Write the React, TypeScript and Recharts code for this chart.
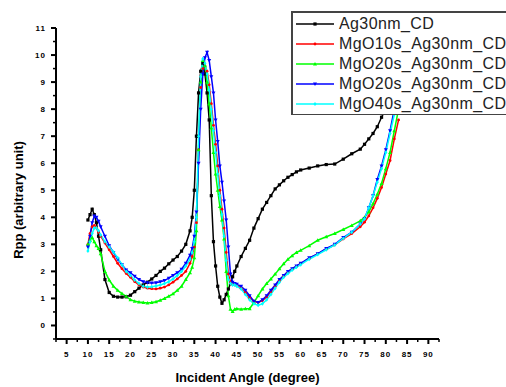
import { LineChart, Line, XAxis, YAxis, Legend } from 'recharts';

const angles = [
  10, 10.5, 11, 11.5, 12, 12.5, 13, 14, 15, 16, 17, 18, 19, 20, 21, 22, 23, 24, 25, 26, 27, 28, 29, 30, 31, 32, 33, 34,
  34.5, 35, 35.5, 36, 36.5, 37, 37.5, 38, 38.5, 39, 39.5, 40, 40.5, 41, 41.5, 42, 42.5, 43, 43.5, 44, 44.5, 45,
  46, 47, 48, 49, 50, 51, 52, 53, 54, 55, 56, 57, 58, 59, 60, 62, 64, 66, 68, 70, 72, 74, 75, 76, 77, 78, 79, 80, 81, 82, 83,
];

const ag30 = [
  3.9, 4.1, 4.3, 4.1, 3.8, 3.3, 2.8, 1.7, 1.22, 1.08, 1.05, 1.05, 1.06, 1.12, 1.25, 1.38, 1.5, 1.6, 1.72, 1.85, 2.0, 2.12, 2.28, 2.42, 2.55, 2.75, 3.0, 3.5,
  4.0, 5.0, 7.0, 8.6, 9.4, 9.7, 9.3, 8.6, 7.6, 4.8, 3.1, 2.2, 1.45, 1.05, 0.82, 0.95, 1.15, 1.35, 1.55, 1.8, 2.0, 2.2,
  2.55, 2.85, 3.15, 3.6, 3.95, 4.3, 4.55, 4.8, 5.05, 5.2, 5.35, 5.48, 5.58, 5.68, 5.75, 5.82, 5.9, 5.95, 5.97, 6.15, 6.35, 6.52, 6.7, 6.9, 7.1, 7.35, 7.7, 8.0, null, null, null,
];

const mgo10 = [
  3.0, 3.4, 3.65, 3.7, 3.6, 3.45, 3.3, 3.05, 2.8, 2.55, 2.3, 2.1, 1.92, 1.78, 1.62, 1.5, 1.42, 1.38, 1.36, 1.35, 1.38, 1.42, 1.5, 1.6, 1.72, 1.85, 2.0, 2.3,
  2.55, 2.9, 3.8, 6.5, 8.8, 9.5, 9.6, 9.4, 8.9, 8.2, 7.4, 6.7, 5.9, 5.0, 4.3, 3.6, 2.7, 1.9, 1.6, 1.52, 1.5, 1.48,
  1.38, 1.22, 1.02, 0.9, 0.85, 0.92, 1.05, 1.25, 1.45, 1.65, 1.82, 1.95, 2.08, 2.18, 2.28, 2.48, 2.65, 2.82, 2.98, 3.2, 3.4, 3.65, 3.82, 4.05, 4.35, 4.7, 5.1, 5.6, 6.1, 6.9, 7.6,
];

const mgo20a = [
  3.0, 3.15, 3.25, 3.1, 2.95, 2.85, 2.65, 2.0, 1.68, 1.45, 1.3, 1.18, 1.08, 0.95, 0.9, 0.87, 0.85, 0.83, 0.85, 0.88, 0.93, 1.0, 1.08, 1.17, 1.3, 1.45, 1.7, 1.95,
  2.15, 2.5, 3.5, 6.5, 9.0, 9.8, 9.6, 9.0, 8.2, 7.3, 6.4, 5.6, 5.0, 4.4, 3.9, 3.2, 2.0, 1.1, 0.6, 0.52, 0.6, 0.62,
  0.6, 0.62, 0.62, 0.85, 1.1, 1.35, 1.55, 1.72, 1.9, 2.1, 2.28, 2.45, 2.58, 2.7, 2.78, 2.95, 3.15, 3.28, 3.4, 3.55, 3.7, 3.87, 4.0, 4.2, 4.5, 4.85, 5.25, 5.8, 6.4, 7.2, 8.0,
];

const mgo20b = [
  2.9, 3.3, 3.8, 4.05, 4.0, 3.85, 3.65, 3.3, 2.95, 2.7, 2.45, 2.25, 2.05, 1.95, 1.82, 1.7, 1.62, 1.58, 1.57, 1.58, 1.62, 1.66, 1.75, 1.85, 1.95, 2.08, 2.3, 2.6,
  2.85, 3.3, 4.2, 6.0, 8.0, 9.3, 9.9, 10.1, 9.8, 9.2, 8.6, 7.6, 6.8, 5.9, 5.3, 4.6, 3.9, 2.9, 1.9, 1.6, 1.55, 1.52,
  1.45, 1.3, 1.1, 0.9, 0.85, 0.95, 1.1, 1.3, 1.5, 1.7, 1.85, 2.0, 2.1, 2.2, 2.3, 2.5, 2.65, 2.85, 3.0, 3.25, 3.45, 3.75, 3.95, 4.35, 4.8, 5.4, 5.9, 6.5, 7.2, 8.0, null,
];

const mgo40 = [
  2.75, 3.1, 3.4, 3.6, 3.6, 3.5, 3.35, 3.1, 2.9, 2.72, 2.5, 2.25, 2.0, 1.85, 1.68, 1.55, 1.45, 1.42, 1.43, 1.46, 1.5, 1.55, 1.62, 1.72, 1.85, 2.0, 2.2, 2.45,
  2.7, 3.1, 4.0, 7.0, 9.2, 9.85, 9.7, 9.3, 8.7, 8.0, 7.2, 6.4, 5.6, 4.8, 4.1, 3.3, 2.4, 1.7, 1.55, 1.5, 1.5, 1.45,
  1.35, 1.15, 0.95, 0.8, 0.75, 0.8, 0.95, 1.15, 1.38, 1.6, 1.78, 1.92, 2.05, 2.15, 2.25, 2.45, 2.62, 2.8, 2.98, 3.22, 3.45, 3.75, 3.95, 4.35, 4.8, 5.3, 5.8, 6.4, 7.1, 7.8, null,
];

const xTicks = [
  2.5, 5, 7.5, 10, 12.5, 15, 17.5, 20, 22.5, 25, 27.5, 30, 32.5, 35, 37.5, 40, 42.5, 45, 47.5, 50,
  52.5, 55, 57.5, 60, 62.5, 65, 67.5, 70, 72.5, 75, 77.5, 80, 82.5, 85, 87.5, 90, 92.5,
];
const yTicks = [-0.5, 0, 0.5, 1, 1.5, 2, 2.5, 3, 3.5, 4, 4.5, 5, 5.5, 6, 6.5, 7, 7.5, 8, 8.5, 9, 9.5, 10, 10.5, 11];

const data = angles.map((a, i) => ({
  angle: a,
  ag30: ag30[i],
  mgo10: mgo10[i],
  mgo20a: mgo20a[i],
  mgo20b: mgo20b[i],
  mgo40: mgo40[i],
}));

type Shape = 'square' | 'circle' | 'up' | 'down' | 'diamond';

function marker(shape: Shape, cx: number, cy: number, color: string, key?: string) {
  if (shape === 'square') return <rect key={key} x={cx - 1.6} y={cy - 1.6} width={3.2} height={3.2} fill={color} />;
  if (shape === 'circle') return <circle key={key} cx={cx} cy={cy} r={1.4} fill={color} />;
  if (shape === 'up')
    return <path key={key} d={`M${cx},${cy - 2} L${cx + 2},${cy + 1.5} L${cx - 2},${cy + 1.5} Z`} fill={color} />;
  if (shape === 'down')
    return <path key={key} d={`M${cx},${cy + 2} L${cx + 2},${cy - 1.5} L${cx - 2},${cy - 1.5} Z`} fill={color} />;
  return <path key={key} d={`M${cx},${cy - 2} L${cx + 1.6},${cy} L${cx},${cy + 2} L${cx - 1.6},${cy} Z`} fill={color} />;
}

const series = [
  { key: 'ag30', name: 'Ag30nm_CD', color: '#000000', shape: 'square' as Shape },
  { key: 'mgo10', name: 'MgO10s_Ag30nm_CD', color: '#ff0000', shape: 'circle' as Shape },
  { key: 'mgo20a', name: 'MgO20s_Ag30nm_CD', color: '#00ff00', shape: 'up' as Shape },
  { key: 'mgo20b', name: 'MgO20s_Ag30nm_CD', color: '#0000ff', shape: 'down' as Shape },
  { key: 'mgo40', name: 'MgO40s_Ag30nm_CD', color: '#00ffff', shape: 'diamond' as Shape },
];

const FONT = 'Liberation Sans, Arial, sans-serif';

function XTick({ x, y, payload }: any) {
  const major = payload.value % 5 === 0;
  return (
    <g>
      <line x1={x} x2={x} y1={y} y2={y + (major ? 5 : 3)} stroke="#000" strokeWidth={major ? 2 : 1.5} />
      {major && (
        <text x={x} y={y + 18} textAnchor="middle" fontSize={8} fontWeight="bold" letterSpacing={1}
          fontFamily={FONT} fill="#000">
          {payload.value}
        </text>
      )}
    </g>
  );
}

function YTick({ x, y, payload }: any) {
  const major = Number.isInteger(payload.value);
  return (
    <g>
      <line x1={x} x2={x - (major ? 5 : 3)} y1={y} y2={y} stroke="#000" strokeWidth={major ? 2 : 1.5} />
      {major && (
        <text x={x - 10} y={y + 3} textAnchor="end" fontSize={8} fontWeight="bold" letterSpacing={1}
          fontFamily={FONT} fill="#000">
          {payload.value}
        </text>
      )}
    </g>
  );
}

function XTitle({ viewBox }: any) {
  return (
    <text x={viewBox.x + viewBox.width / 2} y={viewBox.y + 43} textAnchor="middle" fontSize={13} fontWeight="bold"
      fontFamily={FONT} fill="#000">
      Incident Angle (degree)
    </text>
  );
}

function YTitle({ viewBox }: any) {
  const cx = viewBox.x + 10;
  const cy = viewBox.y + 172;
  return (
    <text x={cx} y={cy} transform={`rotate(-90 ${cx} ${cy})`} textAnchor="middle" dominantBaseline="central"
      fontSize={13} fontWeight="bold" fontFamily={FONT} fill="#000">
      Rpp (arbitrary unit)
    </text>
  );
}

function LegendBox() {
  return (
    <div style={{ width: 215, height: 104, overflow: 'hidden' }}>
      <div style={{ width: 240, height: 100, border: '2px solid #444', background: '#fff', paddingTop: 1,
        fontFamily: FONT, fontSize: 16, color: '#222' }}>
        {series.map((s) => (
          <div key={s.key} style={{ height: 20, display: 'flex', alignItems: 'center', whiteSpace: 'nowrap' }}>
            <svg width={46} height={12} style={{ flex: 'none' }}>
              <line x1={3} x2={41} y1={6} y2={6} stroke={s.color} strokeWidth={1.5} />
              {marker(s.shape, 22, 6, s.color)}
            </svg>
            <span style={{ letterSpacing: 0.4 }}>{s.name}</span>
          </div>
        ))}
      </div>
    </div>
  );
}

export default function App() {
  return (
    <div style={{ position: 'absolute', left: 0, top: 0, width: 506, height: 387, overflow: 'hidden', background: '#fff' }}>
      <LineChart width={506} height={387} data={data} margin={{ top: 28, right: 67, left: 8, bottom: 0 }}>
        <XAxis
          dataKey="angle"
          type="number"
          domain={[2.5, 92.5]}
          ticks={xTicks}
          interval={0}
          height={48}
          tickSize={0}
          tickMargin={0}
          tick={<XTick />}
          axisLine={{ stroke: '#000', strokeWidth: 2 }}
          label={{ content: <XTitle /> }}
        />
        <YAxis
          type="number"
          domain={[-0.5, 11]}
          ticks={yTicks}
          interval={0}
          width={48}
          tickSize={0}
          tickMargin={0}
          tick={<YTick />}
          axisLine={{ stroke: '#000', strokeWidth: 2 }}
          label={{ content: <YTitle /> }}
        />
        {series.map((s) => (
          <Line
            key={s.key}
            dataKey={s.key}
            name={s.name}
            type="linear"
            stroke={s.color}
            strokeWidth={1.5}
            isAnimationActive={false}
            dot={(p: any) =>
              p.cx == null || p.cy == null || p.value == null
                ? <g key={`${s.key}-${p.index}`} />
                : marker(s.shape, p.cx, p.cy, s.color, `${s.key}-${p.index}`)
            }
            activeDot={false}
          />
        ))}
        <Legend
          layout="vertical"
          align="center"
          verticalAlign="middle"
          content={<LegendBox />}
          wrapperStyle={{ position: 'absolute', top: 11, left: 291, width: 215, height: 104 }}
        />
      </LineChart>
    </div>
  );
}
